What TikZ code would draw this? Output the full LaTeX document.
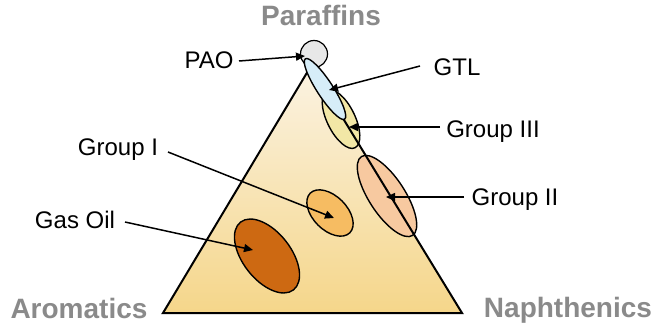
\documentclass[tikz,border=0pt]{standalone}
\usepackage{fontspec}
\setmainfont{Liberation Sans}
\usetikzlibrary{arrows.meta,shapes.geometric}
\definecolor{triTop}{HTML}{FBF3E3}
\definecolor{triBot}{HTML}{F5D68A}
\definecolor{paoC}{HTML}{E8E8E8}
\definecolor{gtlC}{HTML}{D6EDF8}
\definecolor{gthreeC}{HTML}{F2E7A6}
\definecolor{gtwoC}{HTML}{F7C9A0}
\definecolor{goneC}{HTML}{F6BC62}
\definecolor{gasC}{HTML}{CD6912}
\definecolor{axisC}{HTML}{8A8A8A}
\tikzset{
  blob/.style={ellipse,draw=black,line width=1.4pt,inner sep=0pt},
  lbl/.style={font=\fontsize{24}{28}\selectfont,text=black,inner sep=0pt,anchor=base},
  axislbl/.style={font=\fontsize{28}{32}\selectfont\bfseries,text=axisC,inner sep=0pt,anchor=base},
  pointer/.style={line width=1.5pt,-{Triangle[length=9pt,width=8pt]}}
}
\begin{document}
\begin{tikzpicture}[x=1pt,y=-1pt]
\useasboundingbox (0,0) rectangle (653,332);
% triangle corners
\coordinate (apex) at (311,66);
\coordinate (bl) at (163,313);
\coordinate (br) at (462,313);
% PAO circle
\node[blob,circle,fill=paoC,minimum size=27pt,line width=1.2pt] (pao) at (314,54) {};
% triangle fill
\fill[top color=triTop,bottom color=triBot] (apex) -- (br) -- (bl) -- cycle;
% ellipses
\node[blob,fill=gthreeC,minimum width=64pt,minimum height=28pt,rotate=-64] (g3) at (341,119) {};
\node[blob,fill=gtwoC,minimum width=94pt,minimum height=36pt,rotate=-57] (g2) at (387,196) {};
\node[blob,fill=goneC,minimum width=56pt,minimum height=34pt,rotate=-45] (g1) at (330,213) {};
\node[blob,fill=gasC,minimum width=86pt,minimum height=48pt,rotate=-52] (gas) at (267,256) {};
% triangle outline
\draw[line width=2pt,line join=miter] (apex) -- (br) -- (bl) -- cycle;
% GTL on top
\node[blob,fill=gtlC,minimum width=72pt,minimum height=16pt,rotate=-57] (gtl) at (325,89) {};
% axis labels
\node[axislbl] (par) at (321,25) {Paraffins};
\node[axislbl] (aro) at (79,318) {Aromatics};
\node[axislbl] (nap) at (568,317) {Naphthenics};
% labels
\node[lbl] (tpao) at (209,68) {PAO};
\node[lbl] (tgtl) at (457,75) {GTL};
\node[lbl] (tg3) at (493,137) {Group III};
\node[lbl] (tg2) at (515,205) {Group II};
\node[lbl] (tg1) at (118,155) {Group I};
\node[lbl] (tgas) at (75,228) {Gas Oil};
% arrow tips
\coordinate (kpao) at (305,56);
\coordinate (kgtl) at (329,90);
\coordinate (kg3) at (349,127);
\coordinate (kg2) at (386,197);
\coordinate (kg1) at (334,218);
\coordinate (kgas) at (253,250);
% arrow starts
\coordinate (spao) at (239,61);
\coordinate (sgtl) at (420,66);
\coordinate (sg3) at (440,127);
\coordinate (sg2) at (464,197);
\coordinate (sg1) at (168,152);
\coordinate (sgas) at (125,222);
\draw[pointer] (spao) -- (kpao);
\draw[pointer] (sgtl) -- (kgtl);
\draw[pointer] (sg3) -- (kg3);
\draw[pointer] (sg2) -- (kg2);
\draw[pointer] (sg1) -- (kg1);
\draw[pointer] (sgas) -- (kgas);
\end{tikzpicture}
\end{document}
